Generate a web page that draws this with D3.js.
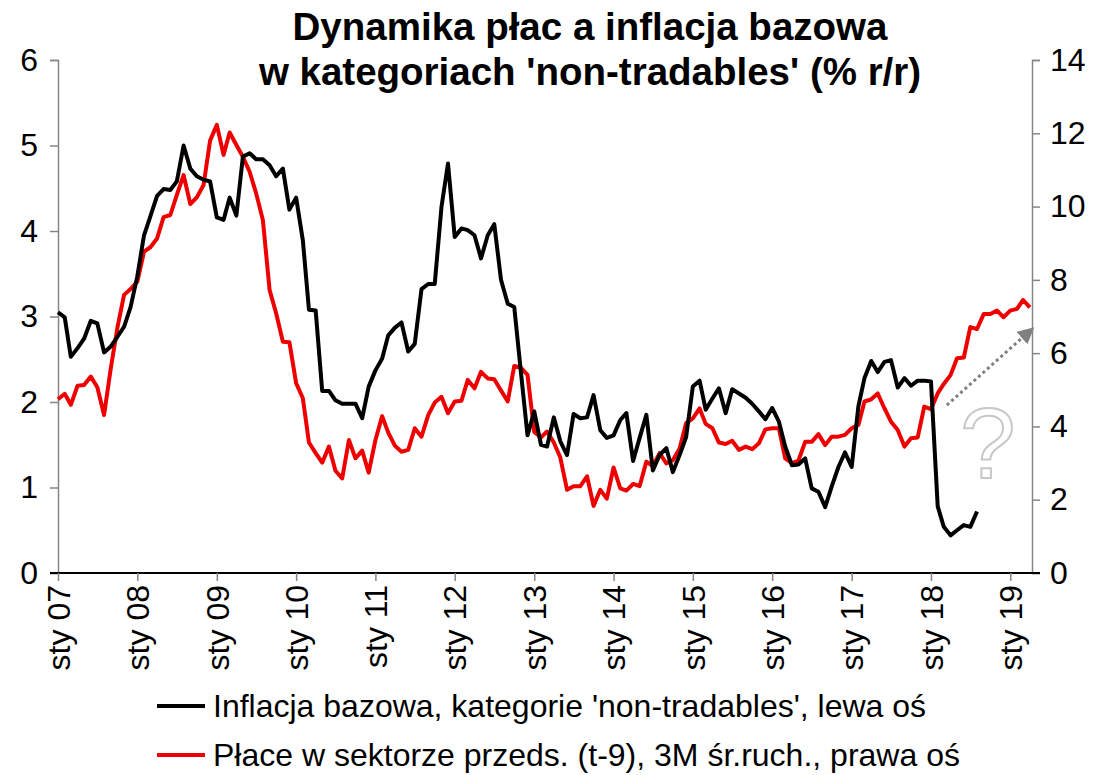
<!DOCTYPE html>
<html>
<head>
<meta charset="utf-8">
<script src="https://cdn.jsdelivr.net/npm/d3@7"></script>
<style>
  body { margin: 0; background: #fff; }
  svg { display: block; font-family: Arial, 'Liberation Sans', sans-serif; }
</style>
</head>
<body>
<svg id="chart" width="1101" height="775"></svg>
<script>
// Months: Jan 2007 .. Apr 2019
const startMonth = new Date(2007, 0, 1);
const lastMonth = new Date(2019, 3, 1);
const months = d3.timeMonth.range(startMonth, d3.timeMonth.offset(lastMonth, 1));

// Core inflation, non-tradables (left axis), Jan 2007 .. Aug 2018
const coreNonTradables = [
  3.05, 2.99, 2.53, 2.63, 2.74, 2.95, 2.92, 2.58, 2.65, 2.76, 2.88, 3.11,
  3.47, 3.95, 4.17, 4.41, 4.49, 4.48, 4.58, 5.00, 4.73, 4.64, 4.60, 4.58,
  4.16, 4.13, 4.39, 4.18, 4.87, 4.91, 4.84, 4.84, 4.77, 4.64, 4.73, 4.25,
  4.39, 3.89, 3.08, 3.07, 2.13, 2.13, 2.02, 1.98, 1.98, 1.98, 1.81, 2.18,
  2.37, 2.51, 2.78, 2.87, 2.93, 2.59, 2.68, 3.32, 3.38, 3.38, 4.28, 4.79,
  3.93, 4.03, 4.01, 3.95, 3.68, 3.95, 4.08, 3.43, 3.15, 3.11, 2.34, 1.61,
  1.89, 1.50, 1.48, 1.82, 1.54, 1.38, 1.86, 1.81, 1.82, 2.08, 1.67, 1.58,
  1.61, 1.79, 1.87, 1.31, 1.58, 1.85, 1.20, 1.38, 1.46, 1.18, 1.38, 1.59,
  2.18, 2.25, 1.91, 2.04, 2.16, 1.87, 2.15, 2.10, 2.05, 1.98, 1.89, 1.80,
  1.93, 1.77, 1.48, 1.26, 1.27, 1.34, 0.99, 0.95, 0.77, 1.01, 1.24, 1.41,
  1.24, 1.95, 2.28, 2.48, 2.35, 2.47, 2.49, 2.17, 2.28, 2.19, 2.25, 2.25,
  2.24, 0.78, 0.54, 0.44, 0.50, 0.56, 0.54, 0.72
];

// Wages in enterprise sector (t-9), 3M moving avg (right axis), Jan 2007 .. Apr 2019
const wagesLagged = [
  4.74, 4.89, 4.59, 5.11, 5.13, 5.36, 5.07, 4.31, 5.59, 6.68, 7.59, 7.75,
  7.95, 8.77, 8.89, 9.13, 9.71, 9.77, 10.32, 10.86, 10.07, 10.25, 10.59, 11.80,
  12.23, 11.41, 12.02, 11.68, 11.36, 10.95, 10.36, 9.63, 7.72, 7.09, 6.31, 6.30,
  5.18, 4.77, 3.56, 3.27, 3.01, 3.45, 2.79, 2.58, 3.63, 3.13, 3.34, 2.74,
  3.63, 4.28, 3.83, 3.47, 3.31, 3.36, 3.95, 3.72, 4.31, 4.65, 4.81, 4.36,
  4.68, 4.70, 5.27, 5.04, 5.49, 5.31, 5.29, 4.98, 4.68, 5.65, 5.60, 5.41,
  3.85, 3.70, 3.86, 3.56, 3.15, 2.27, 2.37, 2.37, 2.64, 1.83, 2.27, 2.03,
  2.88, 2.31, 2.25, 2.43, 2.37, 3.04, 2.92, 3.27, 2.99, 3.08, 3.40, 4.09,
  4.22, 4.49, 4.07, 3.95, 3.56, 3.52, 3.61, 3.36, 3.45, 3.38, 3.54, 3.92,
  3.95, 3.95, 3.13, 3.00, 3.07, 3.58, 3.58, 3.79, 3.49, 3.72, 3.72, 3.77,
  3.95, 4.04, 4.68, 4.74, 4.90, 4.49, 4.13, 3.90, 3.45, 3.68, 3.70, 4.54,
  4.47, 4.90, 5.16, 5.40, 5.86, 5.88, 6.71, 6.66, 7.07, 7.07, 7.16, 6.98,
  7.16, 7.21, 7.45, 7.25
];

const leftTicks = [0, 1, 2, 3, 4, 5, 6];
const rightTicks = [0, 2, 4, 6, 8, 10, 12, 14];

const titleLines = ["Dynamika płac a inflacja bazowa", "w kategoriach 'non-tradables' (% r/r)"];
const legendLabels = [
  "Inflacja bazowa, kategorie 'non-tradables', lewa oś",
  "Płace w sektorze przeds. (t-9), 3M śr.ruch., prawa oś"
];

// Annotation: dotted arrow (date, right-axis value) and question mark
const arrowFrom = { date: new Date(2018, 2, 15), value: 4.58 };
const arrowTo = { date: new Date(2019, 3, 10), value: 6.65 };
const questionAt = { date: new Date(2018, 8, 20), value: 2.6 };

const svg = d3.select('#chart');

// Plot area
const plot = { left: 58, right: 1032, top: 60, bottom: 573 };

// axis runs a little past the last monthly point
const x = d3.scaleTime()
  .domain([startMonth, new Date(2019, 3, 11)])
  .range([plot.left, plot.right]);

const yLeft = d3.scaleLinear().domain([0, 6]).range([plot.bottom, plot.top]);
const yRight = d3.scaleLinear().domain([0, 14]).range([plot.bottom, plot.top]);

const axisColor = '#868686';
const fontSize = 32;
const fontFamily = "Arial, 'Liberation Sans', sans-serif";

// Left axis
const gLeft = svg.append('g')
  .attr('transform', `translate(${plot.left},0)`)
  .call(d3.axisLeft(yLeft).tickValues(leftTicks).tickSize(8).tickPadding(12).tickFormat(d3.format('d')));

// Right axis
const gRight = svg.append('g')
  .attr('transform', `translate(${plot.right},0)`)
  .call(d3.axisRight(yRight).tickValues(rightTicks).tickSize(8).tickPadding(10).tickFormat(d3.format('d')));

[gLeft, gRight].forEach(g => {
  g.select('.domain').attr('stroke', axisColor).attr('stroke-width', 1.5);
  g.selectAll('.tick line').attr('stroke', axisColor).attr('stroke-width', 1.5);
  g.selectAll('.tick text')
    .attr('fill', '#000')
    .style('font-size', fontSize + 'px')
    .style('font-family', fontFamily);
});

// Bottom axis
const gBottom = svg.append('g')
  .attr('transform', `translate(0,${plot.bottom})`)
  .call(d3.axisBottom(x)
    .ticks(d3.timeYear.every(1))
    .tickSize(8)
    .tickSizeOuter(0)
    .tickFormat(d => 'sty ' + d3.timeFormat('%y')(d)));

gBottom.select('.domain').attr('stroke', '#000').attr('stroke-width', 2)
  .attr('d', `M${plot.left - 8},0H${plot.right + 8}`);
gBottom.selectAll('.tick line').attr('stroke', axisColor).attr('stroke-width', 1.5);
gBottom.selectAll('.tick text')
  .attr('fill', '#000')
  .attr('transform', 'rotate(-90)')
  .attr('text-anchor', 'end')
  .attr('x', -12)
  .attr('y', 0)
  .attr('dy', '0.35em')
  .style('font-size', fontSize + 'px')
  .style('font-family', fontFamily);

// Lines
const lineLeft = d3.line()
  .x((d, i) => x(months[i]))
  .y(d => yLeft(d));

const lineRight = d3.line()
  .x((d, i) => x(months[i]))
  .y(d => yRight(d));

svg.append('path')
  .datum(wagesLagged)
  .attr('fill', 'none')
  .attr('stroke', '#ee0000')
  .attr('stroke-width', 4)
  .attr('stroke-linejoin', 'round')
  .attr('d', lineRight);

svg.append('path')
  .datum(coreNonTradables)
  .attr('fill', 'none')
  .attr('stroke', '#000')
  .attr('stroke-width', 4)
  .attr('stroke-linejoin', 'round')
  .attr('d', lineLeft);

// Dotted arrow annotation
const defs = svg.append('defs');
defs.append('marker')
  .attr('id', 'arrowHead')
  .attr('viewBox', '0 0 10 10')
  .attr('refX', 8)
  .attr('refY', 5)
  .attr('markerWidth', 5.5)
  .attr('markerHeight', 5.5)
  .attr('markerUnits', 'strokeWidth')
  .attr('orient', 'auto')
  .append('path')
  .attr('d', 'M0,0L10,5L0,10z')
  .attr('fill', '#808080');

svg.append('line')
  .attr('x1', x(arrowFrom.date))
  .attr('y1', yRight(arrowFrom.value))
  .attr('x2', x(arrowTo.date))
  .attr('y2', yRight(arrowTo.value))
  .attr('stroke', '#808080')
  .attr('stroke-width', 3)
  .attr('stroke-dasharray', '3,3')
  .attr('marker-end', 'url(#arrowHead)');

svg.append('text')
  .attr('x', x(questionAt.date))
  .attr('y', yRight(questionAt.value))
  .attr('text-anchor', 'middle')
  .attr('fill', '#fff')
  .attr('stroke', '#c8c8c8')
  .attr('stroke-width', 2)
  .style('font-size', '100px')
  .text('?');

// Title
svg.append('g')
  .selectAll('text')
  .data(titleLines)
  .join('text')
  .attr('x', 590)
  .attr('y', (d, i) => 40 + i * 45)
  .attr('text-anchor', 'middle')
  .style('font-size', '38.5px')
  .style('font-weight', 'bold')
  .text(d => d);

// Legend
const legendColors = ['#000', '#ee0000'];
const legend = svg.append('g')
  .selectAll('g')
  .data(legendLabels)
  .join('g')
  .attr('transform', (d, i) => `translate(157,${706 + i * 49})`);

legend.append('line')
  .attr('x1', 0)
  .attr('x2', 48)
  .attr('stroke', (d, i) => legendColors[i])
  .attr('stroke-width', 4);

legend.append('text')
  .attr('x', 56)
  .attr('dy', '0.35em')
  .style('font-size', fontSize + 'px')
  .text(d => d);
</script>
</body>
</html>
